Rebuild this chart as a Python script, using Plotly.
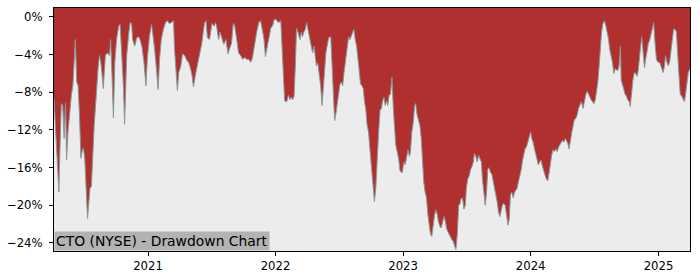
import pandas as pd
import plotly.graph_objects as go

# Chart values: days since 2021-01-01 and drawdown in percent
day_offset = [
    -269, -261, -255, -252, -248, -244, -240, -236, -233, -229, -223, -219, -215, -212, -208,
    -204, -200, -196, -192, -189, -185, -181, -177, -173, -170, -166, -162, -158, -154, -150,
    -147, -143, -139, -135, -132, -128, -122, -116, -110, -107, -103, -99, -95, -90, -84,
    -80, -76, -70, -67, -61, -55, -51, -47, -44, -38, -32, -27, -23, -17, -11,
    -6, -2, 4, 10, 13, 19, 25, 29, 33, 38, 44, 50, 55, 61, 67,
    73, 76, 80, 84, 88, 94, 99, 105, 111, 116, 122, 126, 130, 134, 137,
    143, 149, 154, 158, 162, 166, 170, 176, 179, 183, 189, 193, 196, 202, 206,
    212, 217, 223, 229, 233, 239, 244, 248, 254, 259, 265, 271, 277, 282, 288,
    294, 299, 305, 311, 317, 322, 328, 332, 336, 339, 343, 347, 351, 357, 360,
    364, 368, 374, 380, 383, 387, 391, 397, 402, 406, 410, 414, 418, 422, 425,
    429, 435, 439, 442, 446, 450, 454, 458, 462, 467, 471, 475, 479, 482, 486,
    490, 494, 498, 502, 505, 509, 513, 517, 523, 526, 530, 534, 538, 542, 545,
    549, 553, 557, 561, 565, 570, 574, 578, 583, 589, 593, 597, 603, 608, 612,
    616, 620, 623, 627, 631, 635, 643, 648, 652, 656, 660, 664, 668, 671, 675,
    679, 683, 686, 690, 694, 698, 702, 706, 709, 713, 717, 721, 725, 728, 732,
    736, 740, 744, 748, 751, 755, 759, 763, 766, 770, 774, 778, 782, 786, 789,
    793, 797, 801, 805, 808, 812, 816, 820, 824, 828, 831, 835, 839, 843, 847,
    851, 854, 858, 862, 866, 869, 873, 877, 881, 885, 889, 892, 896, 900, 904,
    908, 911, 915, 919, 923, 927, 931, 934, 938, 942, 946, 950, 954, 957, 961,
    965, 969, 972, 976, 980, 984, 988, 992, 995, 999, 1003, 1007, 1011, 1014, 1018,
    1022, 1026, 1030, 1034, 1037, 1041, 1045, 1049, 1052, 1056, 1060, 1064, 1068, 1072, 1075,
    1079, 1083, 1087, 1091, 1095, 1098, 1102, 1106, 1110, 1114, 1117, 1121, 1125, 1129, 1133,
    1137, 1140, 1144, 1148, 1152, 1155, 1159, 1163, 1167, 1171, 1175, 1178, 1182, 1186, 1190,
    1194, 1197, 1201, 1205, 1209, 1213, 1217, 1220, 1224, 1228, 1232, 1236, 1240, 1245, 1249,
    1253, 1257, 1260, 1264, 1268, 1272, 1276, 1280, 1283, 1287, 1291, 1295, 1298, 1302, 1306,
    1310, 1314, 1318, 1321, 1325, 1329, 1333, 1337, 1340, 1344, 1348, 1352, 1354, 1358, 1361,
    1365, 1369, 1373, 1377, 1380, 1384, 1388, 1392, 1396, 1400, 1403, 1409, 1413, 1417, 1421,
    1424, 1428, 1432, 1436, 1440, 1443, 1447, 1451, 1455, 1459, 1463, 1466, 1470, 1474, 1478,
    1481, 1485, 1489, 1493, 1497, 1501, 1504, 1508, 1512, 1516, 1520, 1523, 1527, 1531, 1535,
    1539, 1543, 1546, 1551,
]
drawdown_pct = [
    -8.7, -15.0, -18.6, -14.0, -9.2, -9.4, -12.9, -9.1, -15.2, -12.2, -9.5, -8.2, -7.3, -4.5, -2.4,
    -6.9, -7.3, -10.5, -15.0, -14.3, -13.9, -15.0, -18.6, -21.4, -20.0, -18.2, -18.0, -14.4, -11.5, -9.4,
    -7.6, -5.5, -4.1, -4.8, -5.9, -7.6, -4.1, -3.8, -4.1, -2.4, -6.2, -10.7, -4.8, -2.4, -0.95,
    -0.8, -3.4, -7.6, -11.4, -4.1, -1.7, -0.6, -0.7, -2.4, -3.1, -2.2, -2.1, -2.4, -3.2, -5.0,
    -7.3, -4.5, -2.1, -0.8, -1.6, -3.4, -5.9, -7.7, -4.5, -2.4, -1.3, -0.6, -0.4, -0.7, -0.6,
    -0.4, -3.4, -5.9, -7.8, -5.9, -5.2, -3.9, -4.1, -4.6, -4.8, -5.5, -6.2, -7.4, -6.4, -5.9,
    -4.8, -3.8, -2.8, -1.6, -0.6, -0.4, -2.2, -2.4, -1.6, -0.7, -1.0, -0.6, -0.9, -2.4, -1.6,
    -2.2, -2.9, -2.4, -3.9, -3.4, -2.8, -0.7, -0.9, -2.4, -3.8, -4.1, -4.5, -4.3, -4.5, -4.5,
    -4.8, -4.3, -2.8, -1.6, -0.6, -0.4, -1.5, -2.4, -4.2, -3.4, -2.8, -2.1, -1.2, -0.9, -0.4,
    -0.2, -0.4, -0.6, -0.4, -2.8, -5.9, -8.9, -9.0, -8.3, -8.8, -8.5, -8.8, -8.4, -4.8, -1.2,
    -1.6, -2.4, -1.6, -2.1, -1.6, -1.3, -0.6, -1.3, -2.2, -2.8, -3.8, -3.1, -4.1, -5.2, -4.9,
    -5.9, -7.3, -9.4, -6.6, -5.9, -3.8, -2.8, -2.2, -2.1, -4.5, -8.0, -11.0, -10.2, -9.1, -8.0,
    -7.2, -6.9, -7.3, -5.9, -4.5, -3.1, -2.1, -2.4, -1.9, -1.3, -2.4, -3.1, -5.2, -7.1, -7.3,
    -7.6, -9.1, -9.7, -11.5, -12.2, -14.0, -17.2, -19.6, -18.1, -14.7, -12.2, -9.9, -9.7, -9.0, -8.5,
    -9.4, -8.9, -9.4, -8.3, -8.2, -6.4, -9.7, -12.2, -13.6, -14.3, -15.0, -16.3, -16.5, -16.5, -15.4,
    -15.7, -15.0, -14.1, -14.8, -14.3, -12.2, -11.2, -9.4, -9.2, -10.4, -10.9, -11.5, -12.9, -15.4, -17.5,
    -18.6, -19.2, -21.0, -22.1, -23.0, -23.3, -22.1, -21.0, -20.5, -21.0, -21.7, -22.2, -22.4, -21.7, -21.2,
    -21.7, -22.4, -22.8, -23.1, -23.5, -23.6, -23.8, -24.4, -24.7, -23.1, -20.0, -19.9, -19.3, -19.2, -20.4,
    -20.0, -18.2, -17.2, -16.9, -16.2, -15.9, -15.4, -14.5, -14.8, -15.4, -14.7, -15.0, -15.4, -17.2, -18.9,
    -20.0, -18.6, -16.2, -16.0, -16.5, -16.7, -17.5, -18.0, -18.6, -19.6, -20.7, -21.2, -20.5, -20.0, -19.8,
    -20.0, -21.0, -22.1, -21.4, -18.9, -18.6, -19.2, -18.6, -18.4, -18.2, -17.5, -16.9, -16.2, -15.2, -14.7,
    -14.0, -13.8, -13.3, -12.6, -12.2, -12.9, -13.3, -14.0, -14.7, -15.4, -15.7, -15.4, -15.2, -15.9, -16.5,
    -16.9, -17.2, -17.4, -16.5, -15.4, -14.7, -14.1, -14.3, -14.0, -14.3, -13.8, -13.6, -13.3, -13.1, -13.3,
    -12.9, -13.1, -13.4, -14.0, -12.9, -12.2, -11.5, -10.9, -10.8, -10.4, -9.7, -9.4, -9.0, -9.7, -8.8,
    -8.2, -7.9, -8.2, -8.4, -8.8, -9.0, -9.2, -8.8, -8.2, -7.0, -5.2, -3.1, -1.6, -0.7, -0.4,
    -0.9, -1.6, -2.4, -3.4, -4.1, -4.8, -6.0, -5.5, -5.6, -5.7, -5.2, -3.1, -6.7, -7.1, -7.6,
    -8.2, -8.4, -8.8, -9.0, -9.5, -8.0, -6.6, -5.9, -6.0, -6.3, -5.6, -3.4, -2.1, -3.8, -5.4,
    -4.5, -3.4, -2.8, -2.4, -1.6, -1.3, -0.6, -2.8, -4.5, -4.8, -4.8, -5.0, -5.4, -5.9, -5.2,
    -4.1, -4.8, -5.2, -4.7, -3.4, -2.4, -1.3, -1.3, -1.6, -4.1, -7.0, -8.2, -8.4, -8.8, -9.0,
    -8.0, -7.0, -5.9, -5.5,
]

y_tick_values = [0, -4, -8, -12, -16, -20, -24]
y_tick_labels = ["0%", "\u22124%", "\u22128%", "\u221212%", "\u221216%", "\u221220%", "\u221224%"]
x_tick_dates = ["2021-01-01", "2022-01-01", "2023-01-01", "2024-01-01", "2025-01-01"]
x_tick_labels = ["2021", "2022", "2023", "2024", "2025"]
title_text = "CTO (NYSE) - Drawdown Chart"

Y_MIN, Y_MAX = -24.85, 0.95

dates = pd.Timestamp("2021-01-01") + pd.to_timedelta(day_offset, unit="D")

fig = go.Figure()
fig.add_trace(go.Scatter(
    x=dates, y=[Y_MAX] * len(dates), mode="lines",
    line=dict(width=0, color="rgba(0,0,0,0)"), hoverinfo="skip", showlegend=False,
))
fig.add_trace(go.Scatter(
    x=dates, y=drawdown_pct, mode="lines", fill="tonexty",
    fillcolor="#b03030", line=dict(color="#8a9696", width=1),
    showlegend=False,
))

font_family = "DejaVu Sans"
fig.update_layout(
    width=700, height=280,
    margin=dict(l=53, r=10, t=7, b=28),
    paper_bgcolor="white", plot_bgcolor="#ececec",
    font=dict(family=font_family, size=11.7, color="black"),
    showlegend=False,
    xaxis=dict(
        range=[dates.min(), dates.max()],
        tickvals=pd.to_datetime(x_tick_dates), ticktext=x_tick_labels,
        ticks="outside", ticklen=4, tickcolor="black", tickwidth=1,
        showgrid=False, zeroline=False,
        showline=True, linecolor="black", linewidth=1, mirror=True,
    ),
    yaxis=dict(
        range=[Y_MIN, Y_MAX],
        tickvals=y_tick_values, ticktext=y_tick_labels,
        ticks="outside", ticklen=4, tickcolor="black", tickwidth=1,
        ticklabelstandoff=4,
        showgrid=False, zeroline=False,
        showline=True, linecolor="black", linewidth=1, mirror=True,
    ),
    annotations=[dict(
        text=title_text, xref="paper", yref="paper", x=0, y=0,
        xanchor="left", yanchor="bottom", showarrow=False,
        font=dict(family=font_family, size=13.9, color="black"),
        bgcolor="#b3b3b3", borderpad=1,
    )],
)

fig.write_html("out.html")
